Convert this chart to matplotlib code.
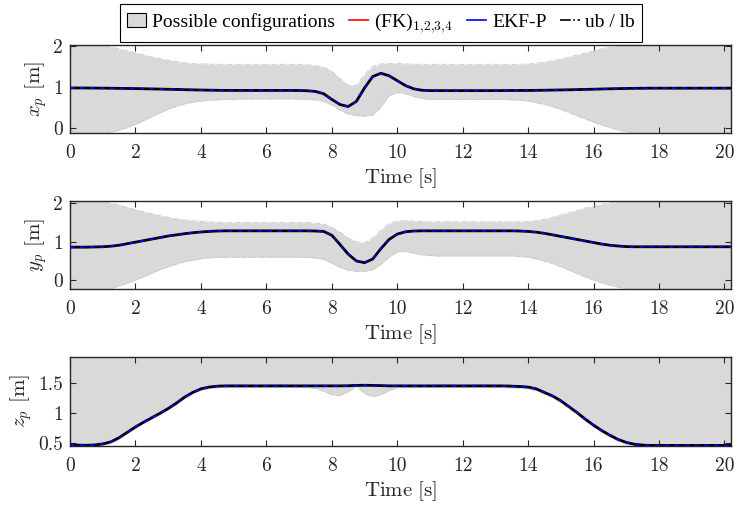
import matplotlib
matplotlib.use("Agg")
import matplotlib.pyplot as plt
from matplotlib.patches import Patch
from matplotlib.lines import Line2D

# ---------------- data ----------------
T = [0, 0.25, 0.5, 0.75, 1, 1.25, 1.5, 1.75,
     2, 2.25, 2.5, 2.75, 3, 3.25, 3.5, 3.75,
     4, 4.25, 4.5, 4.75, 5, 5.25, 5.5, 5.75,
     6, 6.25, 6.5, 6.75, 7, 7.25, 7.5, 7.75,
     8, 8.25, 8.5, 8.75, 9, 9.25, 9.5, 9.75,
     10, 10.25, 10.5, 10.75, 11, 11.25, 11.5, 11.75,
     12, 12.25, 12.5, 12.75, 13, 13.25, 13.5, 13.75,
     14, 14.25, 14.5, 14.75, 15, 15.25, 15.5, 15.75,
     16, 16.25, 16.5, 16.75, 17, 17.25, 17.5, 17.75,
     18, 18.25, 18.5, 18.75, 19, 19.25, 19.5, 19.75,
     20, 20.2]

xp = [0.97, 0.97, 0.97, 0.968, 0.966, 0.964, 0.961, 0.958,
      0.955, 0.951, 0.947, 0.943, 0.938, 0.934, 0.929, 0.924,
      0.92, 0.916, 0.913, 0.911, 0.91, 0.91, 0.91, 0.91,
      0.91, 0.91, 0.91, 0.91, 0.908, 0.902, 0.885, 0.83,
      0.69, 0.565, 0.515, 0.64, 0.97, 1.25, 1.33, 1.27,
      1.15, 1.03, 0.95, 0.915, 0.906, 0.905, 0.905, 0.905,
      0.905, 0.905, 0.905, 0.905, 0.906, 0.907, 0.908, 0.909,
      0.91, 0.912, 0.915, 0.918, 0.922, 0.926, 0.93, 0.935,
      0.94, 0.945, 0.95, 0.954, 0.958, 0.961, 0.963, 0.965,
      0.965, 0.965, 0.965, 0.965, 0.965, 0.965, 0.965, 0.965,
      0.965, 0.965]
xp_ub = [2.05, 2.05, 2.05, 2.04, 2.02, 1.98, 1.93, 1.88,
         1.83, 1.78, 1.73, 1.69, 1.65, 1.62, 1.59, 1.57,
         1.56, 1.555, 1.55, 1.55, 1.55, 1.55, 1.55, 1.55,
         1.55, 1.55, 1.55, 1.55, 1.55, 1.54, 1.52, 1.48,
         1.38, 1.2, 1.04, 1.03, 1.3, 1.5, 1.56, 1.57,
         1.57, 1.56, 1.555, 1.55, 1.55, 1.55, 1.55, 1.55,
         1.55, 1.55, 1.55, 1.55, 1.55, 1.55, 1.55, 1.55,
         1.56, 1.58, 1.6, 1.64, 1.68, 1.73, 1.78, 1.83,
         1.88, 1.93, 1.97, 2.0, 2.03, 2.05, 2.05, 2.05,
         2.05, 2.05, 2.05, 2.05, 2.05, 2.05, 2.05, 2.05,
         2.05, 2.05]
xp_lb = [-0.1, -0.13, -0.14, -0.14, -0.14, -0.11, -0.06, 0.0,
         0.08, 0.17, 0.27, 0.36, 0.45, 0.52, 0.58, 0.62,
         0.65, 0.67, 0.68, 0.69, 0.69, 0.7, 0.7, 0.7,
         0.7, 0.7, 0.7, 0.7, 0.7, 0.69, 0.68, 0.64,
         0.55, 0.43, 0.33, 0.29, 0.28, 0.31, 0.5, 0.78,
         0.86, 0.83, 0.76, 0.71, 0.69, 0.69, 0.69, 0.69,
         0.69, 0.69, 0.69, 0.69, 0.69, 0.69, 0.68, 0.67,
         0.65, 0.61, 0.57, 0.51, 0.44, 0.37, 0.29, 0.21,
         0.13, 0.06, 0.0, -0.06, -0.1, -0.13, -0.14, -0.14,
         -0.14, -0.14, -0.14, -0.14, -0.14, -0.14, -0.14, -0.14,
         -0.14, -0.14]

yp = [0.86, 0.86, 0.86, 0.865, 0.87, 0.885, 0.91, 0.95,
      0.99, 1.03, 1.07, 1.11, 1.15, 1.18, 1.21, 1.235,
      1.255, 1.27, 1.28, 1.285, 1.285, 1.285, 1.285, 1.285,
      1.285, 1.285, 1.285, 1.285, 1.285, 1.285, 1.28, 1.27,
      1.17, 0.93, 0.68, 0.5, 0.455, 0.55, 0.82, 1.06,
      1.2, 1.26, 1.28, 1.285, 1.285, 1.285, 1.285, 1.285,
      1.285, 1.285, 1.285, 1.285, 1.285, 1.285, 1.285, 1.28,
      1.27, 1.25, 1.22, 1.18, 1.14, 1.1, 1.06, 1.02,
      0.98, 0.94, 0.91, 0.89, 0.875, 0.87, 0.87, 0.87,
      0.87, 0.87, 0.87, 0.87, 0.87, 0.87, 0.87, 0.87,
      0.87, 0.87]
yp_ub = [2.1, 2.1, 2.1, 2.09, 2.06, 2.01, 1.96, 1.9,
         1.84, 1.78, 1.73, 1.68, 1.64, 1.6, 1.57, 1.55,
         1.53, 1.52, 1.51, 1.5, 1.5, 1.5, 1.5, 1.5,
         1.5, 1.5, 1.5, 1.5, 1.5, 1.5, 1.49, 1.46,
         1.38, 1.25, 1.1, 1.0, 0.97, 1.1, 1.3, 1.47,
         1.54, 1.55, 1.54, 1.53, 1.52, 1.52, 1.52, 1.52,
         1.52, 1.52, 1.52, 1.52, 1.52, 1.52, 1.52, 1.52,
         1.53, 1.55, 1.59, 1.64, 1.7, 1.76, 1.82, 1.88,
         1.93, 1.98, 2.02, 2.05, 2.08, 2.1, 2.1, 2.1,
         2.1, 2.1, 2.1, 2.1, 2.1, 2.1, 2.1, 2.1,
         2.1, 2.1]
yp_lb = [-0.2, -0.23, -0.25, -0.25, -0.25, -0.22, -0.15, -0.08,
         0.0, 0.09, 0.18, 0.27, 0.35, 0.42, 0.48, 0.52,
         0.56, 0.58, 0.59, 0.6, 0.6, 0.6, 0.6, 0.6,
         0.6, 0.6, 0.6, 0.6, 0.6, 0.59, 0.58, 0.54,
         0.44, 0.33, 0.26, 0.23, 0.23, 0.27, 0.42, 0.6,
         0.74, 0.75, 0.7, 0.66, 0.64, 0.63, 0.63, 0.63,
         0.63, 0.63, 0.63, 0.63, 0.63, 0.63, 0.63, 0.62,
         0.6, 0.55, 0.5, 0.43, 0.35, 0.26, 0.17, 0.08,
         0.0, -0.07, -0.13, -0.18, -0.22, -0.24, -0.25, -0.25,
         -0.25, -0.25, -0.25, -0.25, -0.25, -0.25, -0.25, -0.25,
         -0.25, -0.25]

zp = [0.47, 0.465, 0.462, 0.468, 0.485, 0.52, 0.59, 0.68,
      0.77, 0.85, 0.925, 1.0, 1.08, 1.17, 1.27, 1.35,
      1.41, 1.44, 1.455, 1.46, 1.46, 1.46, 1.46, 1.46,
      1.46, 1.46, 1.46, 1.46, 1.46, 1.46, 1.46, 1.46,
      1.46, 1.46, 1.462, 1.468, 1.47, 1.468, 1.464, 1.46,
      1.46, 1.46, 1.46, 1.46, 1.46, 1.46, 1.46, 1.46,
      1.46, 1.46, 1.46, 1.46, 1.46, 1.46, 1.455, 1.45,
      1.44, 1.41, 1.35, 1.29, 1.21, 1.11, 1.01, 0.9,
      0.8, 0.71, 0.63, 0.56, 0.51, 0.48, 0.465, 0.46,
      0.46, 0.46, 0.46, 0.46, 0.46, 0.46, 0.46, 0.46,
      0.46, 0.46]
zp_lb = [0.44, 0.44, 0.44, 0.445, 0.46, 0.495, 0.565, 0.655,
         0.745, 0.83, 0.905, 0.975, 1.055, 1.145, 1.245, 1.325,
         1.385, 1.415, 1.43, 1.43, 1.43, 1.43, 1.43, 1.43,
         1.43, 1.43, 1.43, 1.43, 1.43, 1.43, 1.42, 1.37,
         1.31, 1.3, 1.36, 1.45, 1.33, 1.28, 1.31, 1.38,
         1.43, 1.43, 1.43, 1.43, 1.43, 1.43, 1.43, 1.43,
         1.43, 1.43, 1.43, 1.43, 1.43, 1.43, 1.425, 1.42,
         1.41, 1.38, 1.32, 1.26, 1.18, 1.08, 0.98, 0.87,
         0.77, 0.68, 0.6, 0.53, 0.48, 0.455, 0.44, 0.44,
         0.44, 0.44, 0.44, 0.44, 0.44, 0.44, 0.44, 0.44,
         0.44, 0.44]
zp_ub = 2.0

x_ticks = [0, 2, 4, 6, 8, 10, 12, 14, 16, 18, 20]
panels = [
    dict(val=xp, ub=xp_ub, lb=xp_lb, ylabel=r"$x_p$ [m]", ylim=(-0.14, 2.03),
         yticks=[0, 1, 2], yticklabels=["0", "1", "2"]),
    dict(val=yp, ub=yp_ub, lb=yp_lb, ylabel=r"$y_p$ [m]", ylim=(-0.23, 2.07),
         yticks=[0, 1, 2], yticklabels=["0", "1", "2"]),
    dict(val=zp, ub=zp_ub, lb=zp_lb, ylabel=r"$z_p$ [m]", ylim=(0.45, 1.95),
         yticks=[0.5, 1, 1.5], yticklabels=["0.5", "1", "1.5"]),
]
legend_labels = ["Possible configurations", r"(FK)$_{1{,}2{,}3{,}4}$", "EKF-P", "ub / lb"]

# ---------------- styling ----------------
plt.rcParams['font.family'] = ['cmr10', 'DejaVu Serif']
plt.rcParams['mathtext.fontset'] = 'cm'
plt.rcParams['axes.formatter.use_mathtext'] = True
plt.rcParams['axes.unicode_minus'] = False

FILL = '#d9d9d9'
SPINE = '#262626'

fig = plt.figure(figsize=(7.34, 5.07), dpi=100)
W, H = 734.0, 507.0
boxes = [(44.7, 133.3), (200.7, 289.0), (356.7, 446.0)]
left_px, right_px = 70.0, 731.0

for (top, bot), p in zip(boxes, panels):
    ax = fig.add_axes([left_px / W, 1 - bot / H, (right_px - left_px) / W, (bot - top) / H])
    ax.fill_between(T, p['lb'], p['ub'], color=FILL, lw=0, zorder=1)
    ub_line = p['ub'] if isinstance(p['ub'], list) else [p['ub']] * len(T)
    ax.plot(T, ub_line, color='#c9c9c9', lw=0.6, ls='-.', zorder=2)
    ax.plot(T, p['lb'], color='#c9c9c9', lw=0.6, ls='-.', zorder=2)
    ax.plot(T, p['val'], color='red', lw=1.0, zorder=3)
    ax.plot(T, p['val'], color='black', lw=2.0, zorder=4, solid_joinstyle='round')
    ax.plot(T, p['val'], color='blue', lw=1.3, dashes=(2.5, 3), zorder=5)
    ax.set_xlim(0, 20.2)
    ax.set_ylim(*p['ylim'])
    ax.set_xticks(x_ticks)
    ax.set_xticklabels([str(v) for v in x_ticks])
    ax.set_yticks(p['yticks'])
    ax.set_yticklabels(p['yticklabels'])
    ax.tick_params(direction='in', top=True, right=True, length=4, width=0.8,
                   color=SPINE, labelsize=14, labelcolor='#262626')
    ax.tick_params(axis='x', pad=8)
    ax.tick_params(axis='y', pad=5)
    for s in ax.spines.values():
        s.set_color(SPINE)
        s.set_linewidth(1.0)
    ax.set_xlabel(r"$\mathrm{Time\ [s]}$", fontsize=15, color='#262626', labelpad=3)
    ax.set_ylabel(p['ylabel'], fontsize=15, color='#262626', labelpad=3)

handles = [
    Patch(facecolor=FILL, edgecolor='black', linewidth=0.8),
    Line2D([], [], color='red', lw=1.2),
    Line2D([], [], color='blue', lw=1.2),
    Line2D([], [], color='black', lw=1.2, ls='-.'),
]
leg = fig.legend(handles, legend_labels, loc='center', bbox_to_anchor=(381 / W, 1 - 23 / H),
                 ncol=4, frameon=True, fancybox=False, edgecolor='black', framealpha=1,
                 handlelength=1.0, handletextpad=0.3, columnspacing=0.7, borderpad=0.35,
                 prop={'family': 'Liberation Serif', 'size': 14})
leg.get_frame().set_linewidth(0.8)

fig.savefig("out.png", dpi=100)
